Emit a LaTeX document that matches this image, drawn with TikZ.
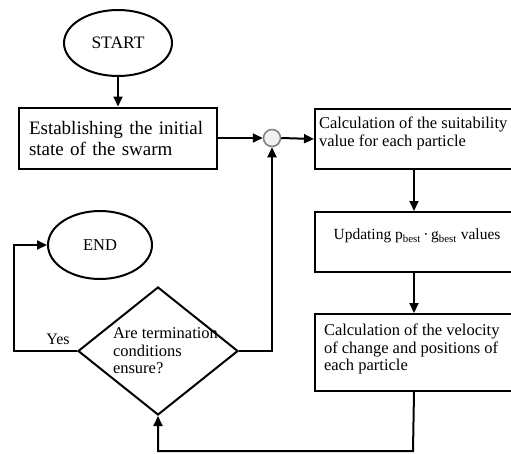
\documentclass[tikz,border=0pt]{standalone}
\usepackage{fontspec}
\setmainfont{Liberation Serif}
\usetikzlibrary{shapes.geometric,arrows.meta}
\begin{document}
\begin{tikzpicture}[x=1pt,y=-1pt,
  line width=2pt,
  arr/.style={-{Triangle[length=10pt,width=9pt]}},
  term/.style={ellipse,draw,inner sep=0pt},
  procbox/.style={rectangle,draw,inner sep=0pt,minimum width=198pt},
  lbl/.style={inner sep=0pt,align=left}
]
\useasboundingbox (0,0) rectangle (511,453);
\clip (0,0) rectangle (511,453);
% terminals
\node[term,minimum width=108pt,minimum height=66pt,font=\fontsize{17.5}{20}\selectfont] (start) at (118,43) {START};
\node[term,minimum width=104pt,minimum height=68pt,font=\fontsize{16.5}{19}\selectfont] (end) at (100,245) {END};
% boxes
\node[procbox,minimum height=61pt,text width=178pt,align=left,font=\fontsize{19}{21}\selectfont] (init) at (118,138)
  {Establishing the initial\\state of the swarm};
\node[circle,draw=gray,fill=gray!12,line width=1.5pt,minimum size=17pt,inner sep=0pt] (junc) at (272,138) {};
\node[procbox,minimum height=60pt,anchor=north west] (fit) at (314,108) {};
\node[lbl,anchor=north west,font=\fontsize{16.5}{18}\selectfont] (fittext) at (318,116)
  {Calculation of the suitability\\value for each particle};
\node[procbox,minimum height=60pt,anchor=north west] (upd) at (314,211) {};
\node[lbl,font=\fontsize{15.5}{18}\selectfont] (updtext) at (417,236)
  {Updating p\textsubscript{best}\,·\,g\textsubscript{best} values};
\node[procbox,minimum height=77pt,anchor=north west] (vel) at (314,313) {};
\node[lbl,anchor=north west,font=\fontsize{16.5}{17.5}\selectfont] (veltext) at (323,323)
  {Calculation of the velocity\\of change and positions of\\each particle};
% decision
\node[diamond,draw,minimum width=160pt,minimum height=128pt,inner sep=0pt] (dia) at (158,351) {};
\node[lbl,anchor=north west,font=\fontsize{16.5}{17.5}\selectfont] (diatext) at (112,327)
  {Are termination\\conditions\\ensure?};
\node[inner sep=0pt,font=\fontsize{16}{18}\selectfont] (yes) at (58,339) {Yes};
% connectors
\draw[arr] (start.south) -- (init.north);
\draw[arr] (init.east) -- (junc.west);
\draw[arr] (junc.east) -- (fit.west);
\draw[arr] (fit.south) -- (upd.north);
\draw[arr] (upd.south) -- (vel.north);
\coordinate (loopc) at (413,451);
\draw[arr] (vel.south) -- (loopc) -| (dia.south);
\draw[arr] (dia.east) -| (junc.south);
\coordinate (yesc) at (14,351);
\draw[arr] (dia.west) -- (yesc) |- (end.west);
\end{tikzpicture}
\end{document}
